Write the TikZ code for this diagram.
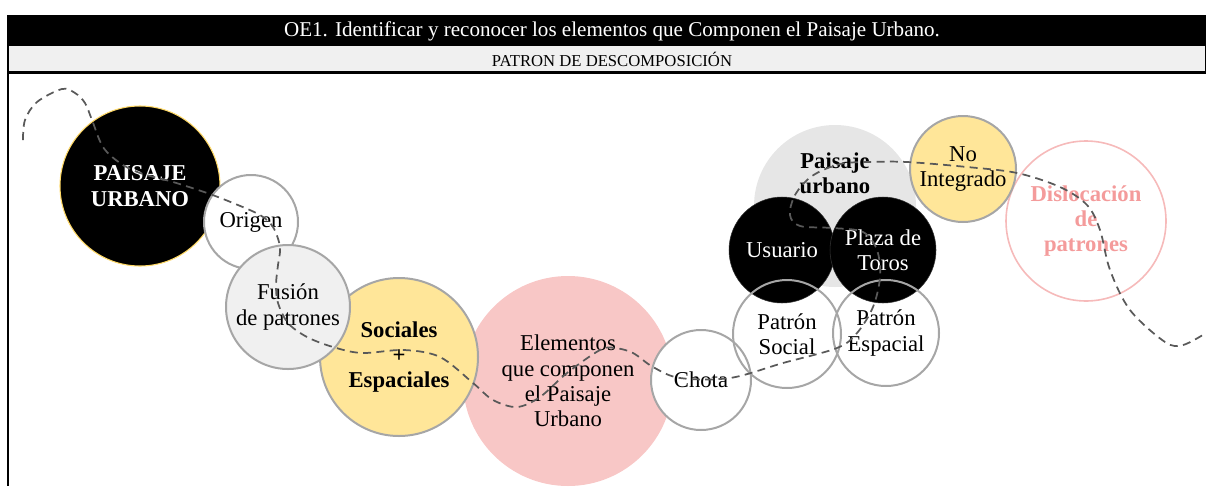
\documentclass[tikz,border=0pt]{standalone}
\usepackage{fontspec}
\setmainfont{Liberation Serif}
\usetikzlibrary{positioning}
\definecolor{myyellow}{RGB}{255,230,153}
\definecolor{mygold}{RGB}{255,217,102}
\definecolor{mypink}{RGB}{248,199,198}
\definecolor{myrose}{RGB}{244,155,155}
\definecolor{myroseline}{RGB}{246,186,186}
\definecolor{myedge}{RGB}{166,166,166}
\definecolor{mylight}{RGB}{240,240,240}
\definecolor{mygrey}{RGB}{230,230,230}
\definecolor{mydash}{RGB}{89,89,89}

\begin{document}
\begin{tikzpicture}[x=0.75pt,y=-0.75pt,
  txt/.style={font=\fontsize{17}{19}\selectfont,align=center,inner sep=0pt},
  btxt/.style={font=\fontsize{17}{19}\selectfont\bfseries},
  bubble/.style={circle,txt,minimum size=#1*1.5pt},
  wnode/.style={draw=myedge,line width=1.5pt,fill=white},
  onode/.style={draw=myedge,line width=1.5pt},
  bnode/.style={fill=black,draw=black!80,text=white},
  ynode/.style={draw=myedge,line width=1.5pt,fill=myyellow},
  dashline/.style={draw=mydash,line width=1.3pt,dash pattern=on 6pt off 4pt}]

  \useasboundingbox (0,0) rectangle (1206,486);

  % header
  \fill (8,15) rectangle (1206,45);
  \draw[line width=1pt,fill=mylight] (8,45) rectangle (1206,72);
  \draw[line width=2pt] (8,73) -- (1206,73);
  \draw[line width=1.5pt] (8,15) -- (8,486);
  \node[text=white,font=\fontsize{15.8}{18}\selectfont] (title) at (612,31)
    {OE1. Identificar y reconocer los elementos que Componen el Paisaje Urbano.};
  \node[font=\fontsize{12.5}{14}\selectfont] (sub) at (612,59) {PATRON DE DESCOMPOSICIÓN};

  % left chain
  \node[bubble=80,bnode,draw=mygold,line width=0.8pt,btxt] (paisaje) at (140,186) {PAISAJE\\URBANO};
  \node[bubble=47,wnode] (origen) at (251,222) {Origen};
  \node[bubble=105,fill=mypink] (elem) at (568,381) {Elementos\\que componen\\el Paisaje\\Urbano};
  \node[bubble=79,ynode,btxt] (socesp) at (399,357) {Sociales\\+\\Espaciales};
  \node[bubble=62,onode,fill=mylight] (fusion) at (288,307) {Fusión\\de patrones};
  \node[bubble=50,wnode] (chota) at (701,380) {Chota};

  % right cluster
  \node[bubble=81,fill=mygrey] (purbano) at (835,206) {};
  \node[txt,btxt] (purbanotxt) at (835,173) {Paisaje\\urbano};
  \node[bubble=53,bnode] (usuario) at (782,250) {Usuario};
  \node[bubble=53,bnode] (plaza) at (883,250) {Plaza de\\Toros};
  \node[bubble=54,onode] (psocial) at (787,334) {Patrón\\Social};
  \node[bubble=53,onode] (pespacial) at (886,333) {Patrón\\Espacial};
  \node[bubble=80,draw=myroseline,line width=1.2pt,fill=white,text=myrose,btxt] (disloc) at (1086,221) {Dislocación\\de\\patrones};
  \node[bubble=53,ynode] (nointeg) at (963,169) {No\\Integrado};

  % dashed thread
  \draw[dashline] plot[smooth,tension=0.55] coordinates {
    (23,140) (25,120) (37,102) (62,89) (75,93) (85,103) (92,120) (103,147)
    (120,163) (140,173) (173,182) (207,193) (233,203) (260,215) (273,227)
    (280,247) (278,265) (276,285) (278,303) (288,323) (307,337) (333,347)
    (362,353) (404,350) (440,357) (473,383) (493,400) (517,407) (540,397)
    (567,373) (600,350) (615,348) (633,353) (653,367) (680,378) (730,378)
    (783,363) (837,348) (857,333) (873,307) (880,277) (877,250) (863,232)
    (833,228) (800,226) (790,215) (795,195) (812,176) (840,164) (870,162)
    (907,162) (967,167) (1017,173) (1060,187) (1087,205) (1100,230)
    (1110,270) (1130,310) (1165,342) (1183,345) (1206,333)};

\end{tikzpicture}
\end{document}
